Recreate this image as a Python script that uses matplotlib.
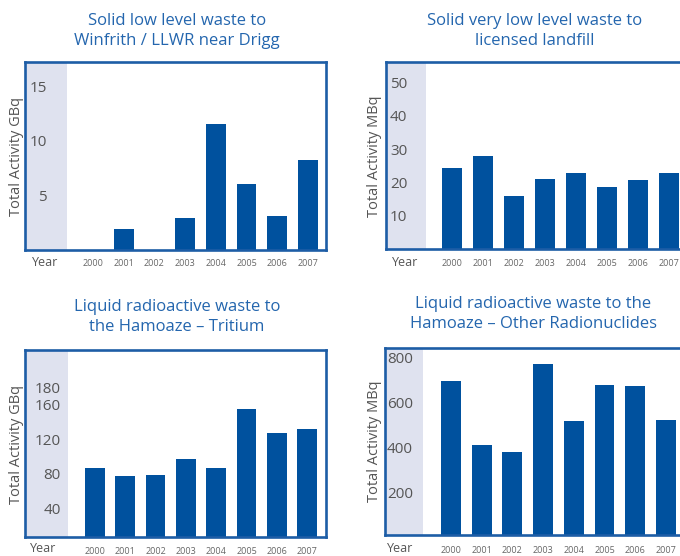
import matplotlib
matplotlib.use("Agg")
import matplotlib.pyplot as plt
from matplotlib.ticker import FixedLocator, FixedFormatter

plt.rcParams['font.family'] = ['Open Sans', 'DejaVu Sans']

years = ['2000', '2001', '2002', '2003', '2004', '2005', '2006', '2007']

solid_llw_gbq = [0.0, 1.9, 0.0, 2.9, 11.5, 6.0, 3.1, 8.2]
solid_vllw_mbq = [24.2, 28.1, 15.9, 21.0, 22.7, 18.6, 20.7, 22.7]
tritium_gbq = [86, 77, 78, 97, 86, 155, 127, 132]
other_mbq = [693, 409, 378, 769, 516, 676, 671, 520]

ticks_solid_llw = [5, 10, 15]
ticks_solid_vllw = [10, 20, 30, 40, 50]
ticks_tritium = [40, 80, 120, 160, 180]
ticks_other = [200, 400, 600, 800]

titles = [
    "Solid low level waste to\nWinfrith / LLWR near Drigg",
    "Solid very low level waste to\nlicensed landfill",
    "Liquid radioactive waste to\nthe Hamoaze \u2013 Tritium",
    "Liquid radioactive waste to the\nHamoaze \u2013 Other Radionuclides",
]
ylabels = ["Total Activity GBq", "Total Activity MBq",
           "Total Activity GBq", "Total Activity MBq"]

BAR = '#00519e'
FRAME = '#1d5da6'
BAND = '#dfe2ef'
TITLE = '#2466ae'
TEXT = '#555555'

W, H = 680, 556
fig = plt.figure(figsize=(W / 100, H / 100), dpi=100)


def px_axes(left, top, right, bottom):
    return fig.add_axes([left / W, 1 - bottom / H, (right - left) / W, (bottom - top) / H])


panels = [
    dict(box=(25, 62, 326, 250), xlim=(-2.215, 7.59), band=-0.847, ylim=(0, 17.2),
         vals=solid_llw_gbq, ticks=ticks_solid_llw, align='right', ypad=-15.8, xpad=6.8,
         title_xy=(177, 31), ylab_xy=(17, 156), year_xy=(32, 263)),
    dict(box=(386, 62, 684, 249), xlim=(-2.14, 7.48), band=-0.84, ylim=(0, 56.2),
         vals=solid_vllw_mbq, ticks=ticks_solid_vllw, align='left', ypad=-2.9, xpad=7.5,
         title_xy=(535, 31), ylab_xy=(375, 156), year_xy=(392, 263)),
    dict(box=(25, 350, 326, 537), xlim=(-2.31, 7.62), band=-0.89, ylim=(6.4, 223.2),
         vals=tritium_gbq, ticks=ticks_tritium, align='right', ypad=-25.9, xpad=7.0,
         title_xy=(177, 317), ylab_xy=(17, 444), year_xy=(30, 549)),
    dict(box=(385, 348, 684, 535), xlim=(-2.15, 7.59), band=-0.91, ylim=(8.9, 840),
         vals=other_mbq, ticks=ticks_other, align='left', ypad=-1.5, xpad=8.0,
         title_xy=(533, 314), ylab_xy=(375, 441), year_xy=(387, 548)),
]

for p, title, ylab in zip(panels, titles, ylabels):
    ax = px_axes(*p['box'])
    ax.set_xlim(*p['xlim'])
    ax.set_ylim(*p['ylim'])
    ax.axvspan(p['xlim'][0], p['band'], color=BAND, lw=0, zorder=0)
    ax.bar(range(len(years)), p['vals'], width=0.65, bottom=0, color=BAR, zorder=2)

    ax.set_xticks(range(len(years)))
    ax.set_xticklabels(years)
    ax.tick_params(axis='x', length=0, pad=p['xpad'], labelsize=6.5, labelcolor='#666666')

    ax.yaxis.set_major_locator(FixedLocator(p['ticks']))
    ax.yaxis.set_major_formatter(FixedFormatter([str(t) for t in p['ticks']]))
    ax.tick_params(axis='y', length=0, pad=p['ypad'], labelsize=11, labelcolor=TEXT)
    for lab in ax.get_yticklabels():
        lab.set_horizontalalignment(p['align'])
        lab.set_zorder(3)

    for s in ax.spines.values():
        s.set_color(FRAME)
        s.set_linewidth(1.9)
        s.set_zorder(4)

    tx, ty = p['title_xy']
    fig.text(tx / W, 1 - ty / H, title, ha='center', va='center', color=TITLE,
             fontsize=12, fontweight='medium', linespacing=1.3)
    lx, ly = p['ylab_xy']
    fig.text(lx / W, 1 - ly / H, ylab, ha='center', va='center', rotation=90,
             color=TEXT, fontsize=10.5)
    yx, yy = p['year_xy']
    fig.text(yx / W, 1 - yy / H, "Year", ha='left', va='center', color=TEXT, fontsize=9)

fig.savefig("out.png", dpi=100, facecolor='white')
